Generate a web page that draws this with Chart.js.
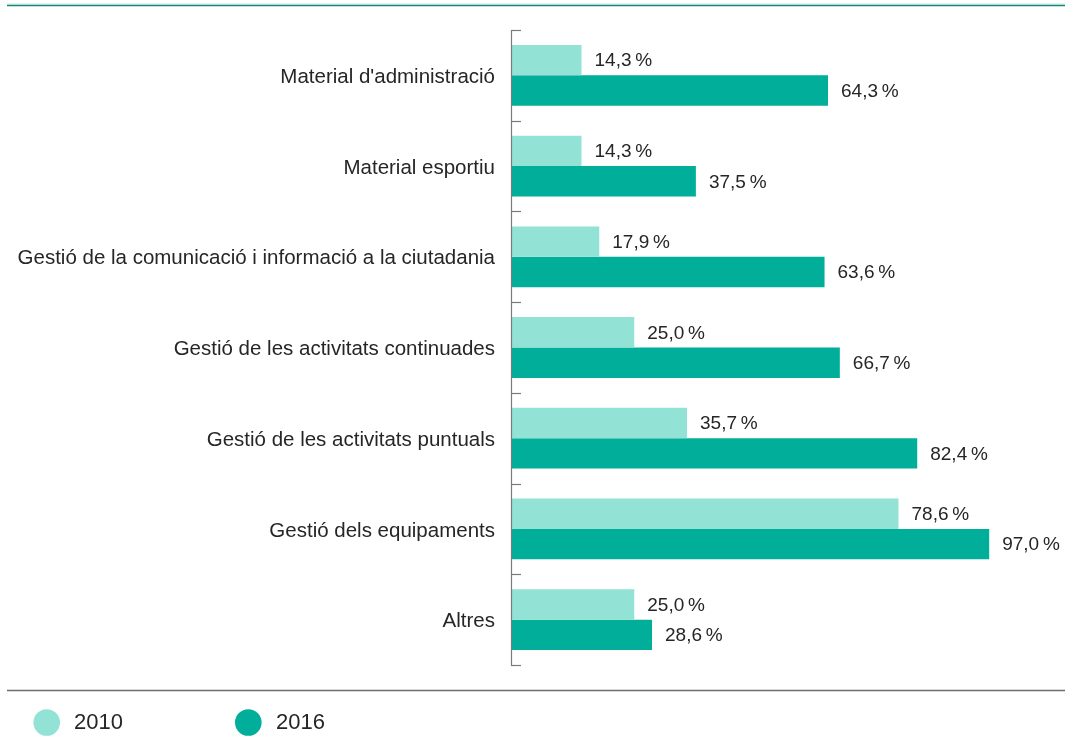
<!DOCTYPE html>
<html>
<head>
<meta charset="utf-8">
<script src="https://cdn.jsdelivr.net/npm/chart.js@4/dist/chart.umd.min.js"></script>
<style>
  html, body { margin: 0; padding: 0; background: #fff; }
  #wrap { position: relative; width: 1065px; height: 749px; }
  canvas { display: block; }
</style>
</head>
<body>
<div id="wrap"><canvas id="c" width="1065" height="749"></canvas></div>
<script>
const categories = [
  "Material d'administració",
  "Material esportiu",
  "Gestió de la comunicació i informació a la ciutadania",
  "Gestió de les activitats continuades",
  "Gestió de les activitats puntuals",
  "Gestió dels equipaments",
  "Altres"
];
const seriesNames = ["2010", "2016"];
const values2010 = [14.3, 14.3, 17.9, 25.0, 35.7, 78.6, 25.0];
const values2016 = [64.3, 37.5, 63.6, 66.7, 82.4, 97.0, 28.6];
const xMin = 0;
const xMax = 100;

const COLOR_LIGHT = '#92e2d6';
const COLOR_DARK = '#00ae9a';
const TEXT = '#262626';
const FONT = '"Liberation Sans", Arial, Helvetica, sans-serif';

function fmt(v) {
  return v.toFixed(1).replace('.', ',') + '\u2009%';
}

const decor = {
  id: 'decor',
  afterDraw(chart) {
    const ctx = chart.ctx;
    const a = chart.chartArea;
    ctx.save();
    // top teal rule
    ctx.strokeStyle = '#c9e9e4';
    ctx.lineWidth = 1;
    ctx.beginPath(); ctx.moveTo(7, 4); ctx.lineTo(1065, 4); ctx.stroke();
    ctx.strokeStyle = '#12877a';
    ctx.lineWidth = 1.5;
    ctx.beginPath(); ctx.moveTo(7, 5.5); ctx.lineTo(1065, 5.5); ctx.stroke();
    // bottom gray rule
    ctx.strokeStyle = '#6d6d6d';
    ctx.lineWidth = 1.3;
    ctx.beginPath(); ctx.moveTo(7, 690.5); ctx.lineTo(1065, 690.5); ctx.stroke();
    // axis line
    ctx.strokeStyle = '#7a7a7a';
    ctx.lineWidth = 1.2;
    ctx.beginPath(); ctx.moveTo(a.left + 0.5, a.top); ctx.lineTo(a.left + 0.5, a.bottom); ctx.stroke();
    // ticks at category boundaries
    const n = categories.length;
    const step = (a.bottom - a.top) / n;
    for (let i = 0; i <= n; i++) {
      const yy = Math.round(a.top + i * step) + 0.5;
      ctx.beginPath(); ctx.moveTo(a.left, yy); ctx.lineTo(a.left + 10, yy); ctx.stroke();
    }
    // value labels
    ctx.fillStyle = TEXT;
    ctx.font = '19px ' + FONT;
    ctx.textAlign = 'left';
    ctx.textBaseline = 'middle';
    chart.data.datasets.forEach((ds, di) => {
      const meta = chart.getDatasetMeta(di);
      meta.data.forEach((bar, i) => {
        ctx.fillText(fmt(ds.data[i]), bar.x + 13, bar.y + 1);
      });
    });
    // legend
    const leg = [
      { x: 46.7, tx: 74, c: COLOR_LIGHT, t: seriesNames[0] },
      { x: 248.3, tx: 276, c: COLOR_DARK, t: seriesNames[1] }
    ];
    ctx.font = '22px ' + FONT;
    leg.forEach(l => {
      ctx.fillStyle = l.c;
      ctx.beginPath(); ctx.arc(l.x, 722.5, 13.3, 0, Math.PI * 2); ctx.fill();
      ctx.fillStyle = TEXT;
      ctx.fillText(l.t, l.tx, 723);
    });
    ctx.restore();
  }
};

new Chart(document.getElementById('c'), {
  type: 'bar',
  data: {
    labels: categories,
    datasets: [
      { label: seriesNames[0], data: values2010, backgroundColor: COLOR_LIGHT, borderWidth: 0 },
      { label: seriesNames[1], data: values2016, backgroundColor: COLOR_DARK, borderWidth: 0 }
    ]
  },
  options: {
    indexAxis: 'y',
    responsive: false,
    animation: false,
    devicePixelRatio: 1,
    layout: { padding: { left: 0, right: 61, top: 30, bottom: 84 } },
    datasets: { bar: { categoryPercentage: 0.67, barPercentage: 1.0 } },
    plugins: { legend: { display: false }, tooltip: { enabled: false } },
    scales: {
      x: { display: false, min: xMin, max: xMax },
      y: {
        grid: { display: false, drawTicks: false },
        border: { display: false },
        ticks: { color: TEXT, font: { family: FONT, size: 20.5 }, padding: 16, labelOffset: 2, autoSkip: false },
        afterFit(s) { s.width = 511; }
      }
    }
  },
  plugins: [decor]
});
</script>
</body>
</html>
